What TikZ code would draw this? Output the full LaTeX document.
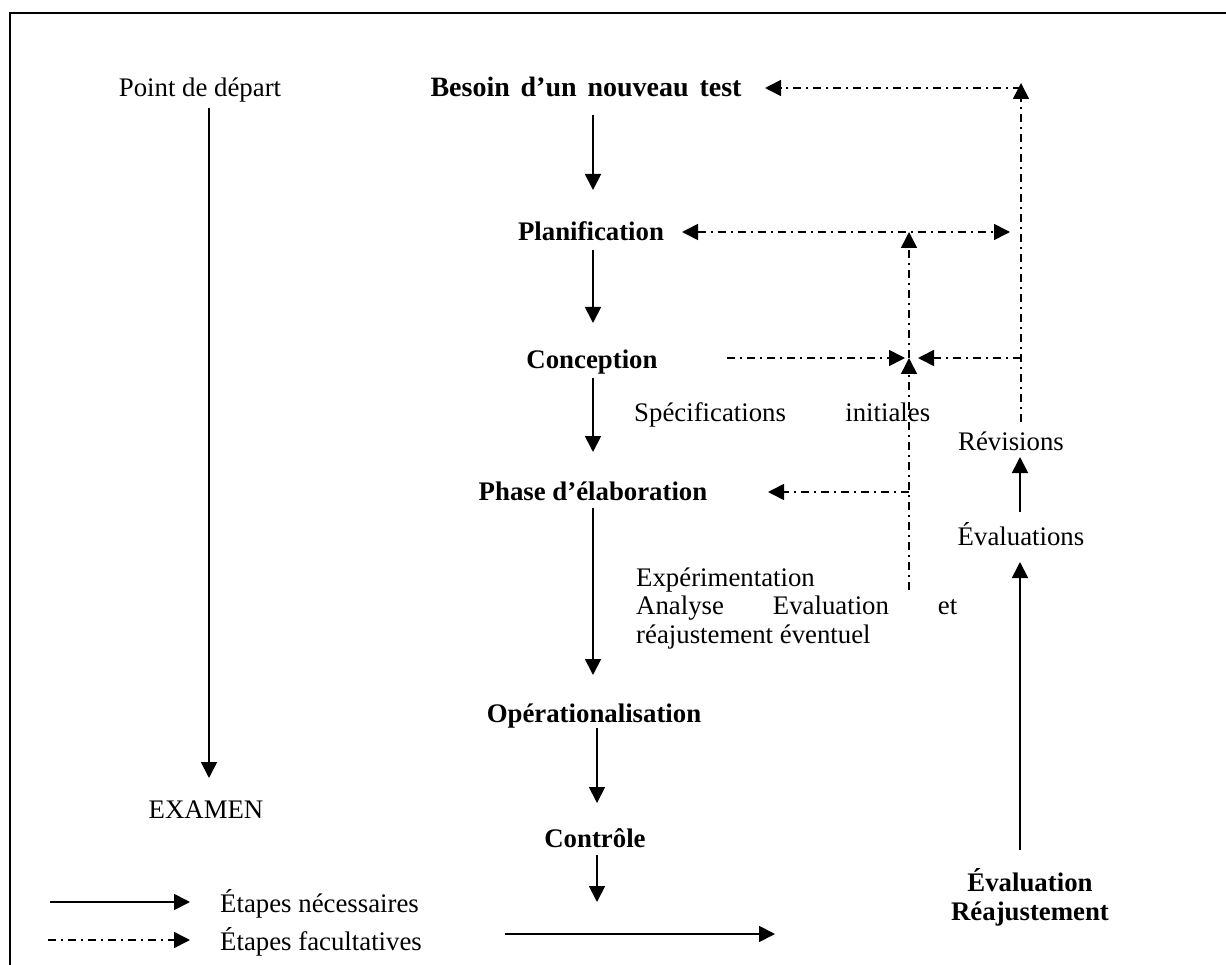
\documentclass[tikz,border=0pt]{standalone}
\usepackage{fontspec}
\setmainfont{Liberation Serif}
\usetikzlibrary{arrows.meta}
\begin{document}
\begin{tikzpicture}[x=1pt,y=-1pt,
  txt/.style={inner sep=0pt, font=\fontsize{26.8}{28.5}\selectfont, anchor=base},
  btxt/.style={txt, font=\fontsize{26.8}{28.5}\selectfont\bfseries},
  arr/.style={line width=1.8pt, -{Triangle[length=16pt,width=16pt]}},
  ddline/.style={line width=1.6pt, dash pattern=on 8pt off 5pt on 2pt off 5pt},
  dda/.style={ddline, -{Triangle[length=16pt,width=16pt]}},
  ddb/.style={ddline, {Triangle[length=16pt,width=16pt]}-{Triangle[length=16pt,width=16pt]}},
]
\useasboundingbox (0,0) rectangle (1226,965);
\draw[line width=2.5pt] (10,965) -- (10,13) -- (1226,13);

% texts
\node[txt] (depart) at (200,97) {Point de départ};
\node[txt] (examen) at (206,818) {EXAMEN};
\node[btxt, font=\fontsize{28}{30}\selectfont\bfseries] (besoin) at (586,97) {\hbox to 311pt{Besoin\hfill d’un\hfill nouveau\hfill test}};
\node[btxt] (plan) at (591,241) {Planification};
\node[btxt] (concep) at (592,369) {Conception};
\node[btxt] (phase) at (593,500) {Phase d’élaboration};
\node[btxt] (operat) at (594,722) {Opérationalisation};
\node[btxt] (controle) at (595,847) {Contrôle};
\node[txt,anchor=base west] (specs) at (634,421) {\hbox to 296pt{Spécifications\hfill initiales}};
\node[txt,anchor=base west] (exp1) at (636,586) {Expérimentation};
\node[txt,anchor=base west] (exp2) at (636,614) {\hbox to 321pt{Analyse\hfill Evaluation\hfill et}};
\node[txt,anchor=base west] (exp3) at (636,643) {réajustement éventuel};
\node[txt] (revis) at (1011,450) {Révisions};
\node[txt] (evals) at (1021,545) {Évaluations};
\node[btxt] (evalb) at (1030,891) {Évaluation};
\node[btxt] (reaj) at (1030,920) {Réajustement};
\node[txt,anchor=base west] (leg1) at (220,912) {Étapes nécessaires};
\node[txt,anchor=base west] (leg2) at (220,950) {Étapes facultatives};

% connector end points
\coordinate (d1) at (209,108);  \coordinate (d2) at (209,778);
\coordinate (b1) at (593,115);  \coordinate (b2) at (593,190);
\coordinate (p1) at (593,250);  \coordinate (p2) at (593,323);
\coordinate (c1) at (593,378);  \coordinate (c2) at (593,452);
\coordinate (h1) at (593,508);  \coordinate (h2) at (593,675);
\coordinate (o1) at (597,728);  \coordinate (o2) at (597,803);
\coordinate (k1) at (597,855);  \coordinate (k2) at (597,902);
\coordinate (z1) at (505,934);  \coordinate (z2) at (775,934);
\coordinate (e1) at (1020,850); \coordinate (e2) at (1020,562);
\coordinate (v1) at (1020,512); \coordinate (v2) at (1020,457);
\coordinate (l1a) at (50,902);  \coordinate (l1b) at (190,902);
\coordinate (l2a) at (48,940);  \coordinate (l2b) at (190,940);

% dash-dot network
\coordinate (r0) at (1021,422);
\coordinate (rtop) at (1021,83);
\coordinate (rh) at (1021,88);
\coordinate (btip) at (765,88);
\coordinate (pl) at (682,232);
\coordinate (pr) at (1010,232);
\coordinate (mtop) at (909,232);
\coordinate (mmid) at (909,358);
\coordinate (mbot) at (909,590);
\coordinate (mphase) at (909,492);
\coordinate (phtip) at (768,492);
\coordinate (cs) at (727,358);
\coordinate (ctip) at (905,358);
\coordinate (rc) at (1021,358);
\coordinate (rctip) at (918,358);

% solid arrows
\draw[arr] (d1) -- (d2);
\draw[arr] (b1) -- (b2);
\draw[arr] (p1) -- (p2);
\draw[arr] (c1) -- (c2);
\draw[arr] (h1) -- (h2);
\draw[arr] (o1) -- (o2);
\draw[arr] (k1) -- (k2);
\draw[arr] (z1) -- (z2);
\draw[arr] (e1) -- (e2);
\draw[arr] (v1) -- (v2);
\draw[arr] (l1a) -- (l1b);

% dash-dot arrows
\draw[dda] (l2a) -- (l2b);
\draw[dda] (r0) -- (rtop);
\draw[dda] (rh) -- (btip);
\draw[ddb] (pl) -- (pr);
\draw[dda] (mmid) -- (mtop);
\draw[dda] (mbot) -- (mmid);
\draw[dda] (mphase) -- (phtip);
\draw[dda] (cs) -- (ctip);
\draw[dda] (rc) -- (rctip);
\end{tikzpicture}
\end{document}
